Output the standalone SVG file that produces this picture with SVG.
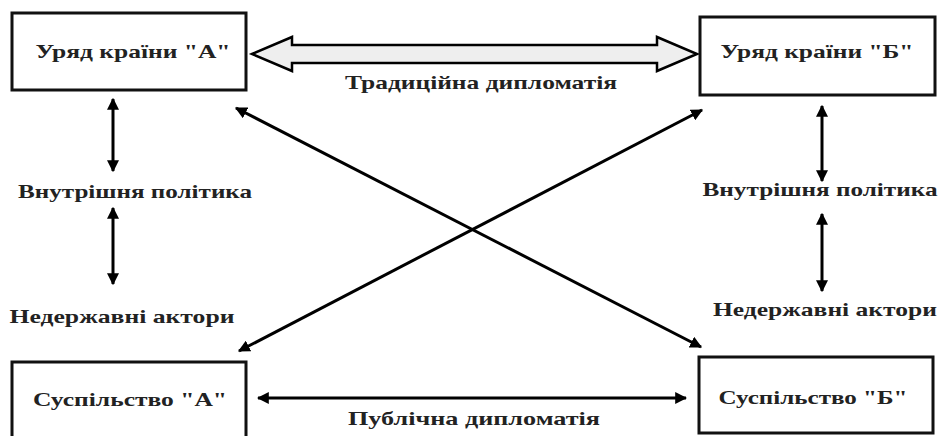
<svg xmlns="http://www.w3.org/2000/svg" width="940" height="436" viewBox="0 0 940 436">
<defs>
<marker id="ah" viewBox="0 0 10 10" refX="9" refY="5" markerWidth="4" markerHeight="4" orient="auto-start-reverse" markerUnits="strokeWidth">
<path d="M0,0 L10,5 L0,10 z" fill="#000"/>
</marker>
</defs>
<style>
.box{fill:#fff;stroke:#111;stroke-width:3}
.t{font-family:"Liberation Serif","Times New Roman",serif;font-weight:bold;font-size:19px;fill:#222;text-anchor:middle}
.c{stroke:#000;stroke-width:3;fill:none;marker-start:url(#ah);marker-end:url(#ah)}
.big{fill:#eee;stroke:#000;stroke-width:2.5;stroke-linejoin:miter}
</style>
<rect width="940" height="436" fill="#fff"/>
<g id="connectors">
<polygon class="big" points="252,54 292,37 292,45 657,45 657,37 697,54 657,71 657,63 292,63 292,71"/>
<line class="c" x1="113" y1="99" x2="113" y2="171"/>
<line class="c" x1="113" y1="208" x2="113" y2="284"/>
<line class="c" x1="822" y1="106" x2="822" y2="181"/>
<line class="c" x1="822" y1="214" x2="822" y2="291"/>
<line class="c" x1="236" y1="108" x2="701" y2="347"/>
<line class="c" x1="702" y1="110" x2="239" y2="351"/>
<line class="c" x1="258" y1="398" x2="686" y2="398"/>
</g>
<g id="label-trad"><text class="t" x="481" y="89" textLength="272" lengthAdjust="spacingAndGlyphs">Традиційна дипломатія</text></g>
<g id="label-vp-a"><text class="t" x="135" y="198" textLength="234" lengthAdjust="spacingAndGlyphs">Внутрішня політика</text></g>
<g id="label-na-a"><text class="t" x="122" y="323" textLength="225" lengthAdjust="spacingAndGlyphs">Недержавні актори</text></g>
<g id="label-vp-b"><text class="t" x="820" y="196" textLength="235" lengthAdjust="spacingAndGlyphs">Внутрішня політика</text></g>
<g id="label-na-b"><text class="t" x="825" y="316" textLength="224" lengthAdjust="spacingAndGlyphs">Недержавні актори</text></g>
<g id="label-pub"><text class="t" x="474" y="425" textLength="252" lengthAdjust="spacingAndGlyphs">Публічна дипломатія</text></g>
<g id="gov-a">
<rect class="box" x="12" y="13" width="234" height="77"/>
<text class="t" x="133" y="58" textLength="195" lengthAdjust="spacingAndGlyphs">Уряд країни "А"</text>
</g>
<g id="gov-b">
<rect class="box" x="700" y="17" width="235" height="78"/>
<text class="t" x="817" y="58" textLength="193" lengthAdjust="spacingAndGlyphs">Уряд країни "Б"</text>
</g>
<g id="soc-a">
<rect class="box" x="12" y="362" width="234" height="80"/>
<text class="t" x="130" y="406" textLength="194" lengthAdjust="spacingAndGlyphs">Суспільство "А"</text>
</g>
<g id="soc-b">
<rect class="box" x="699" y="357" width="234" height="76"/>
<text class="t" x="813" y="404" textLength="189" lengthAdjust="spacingAndGlyphs">Суспільство "Б"</text>
</g>
</svg>
